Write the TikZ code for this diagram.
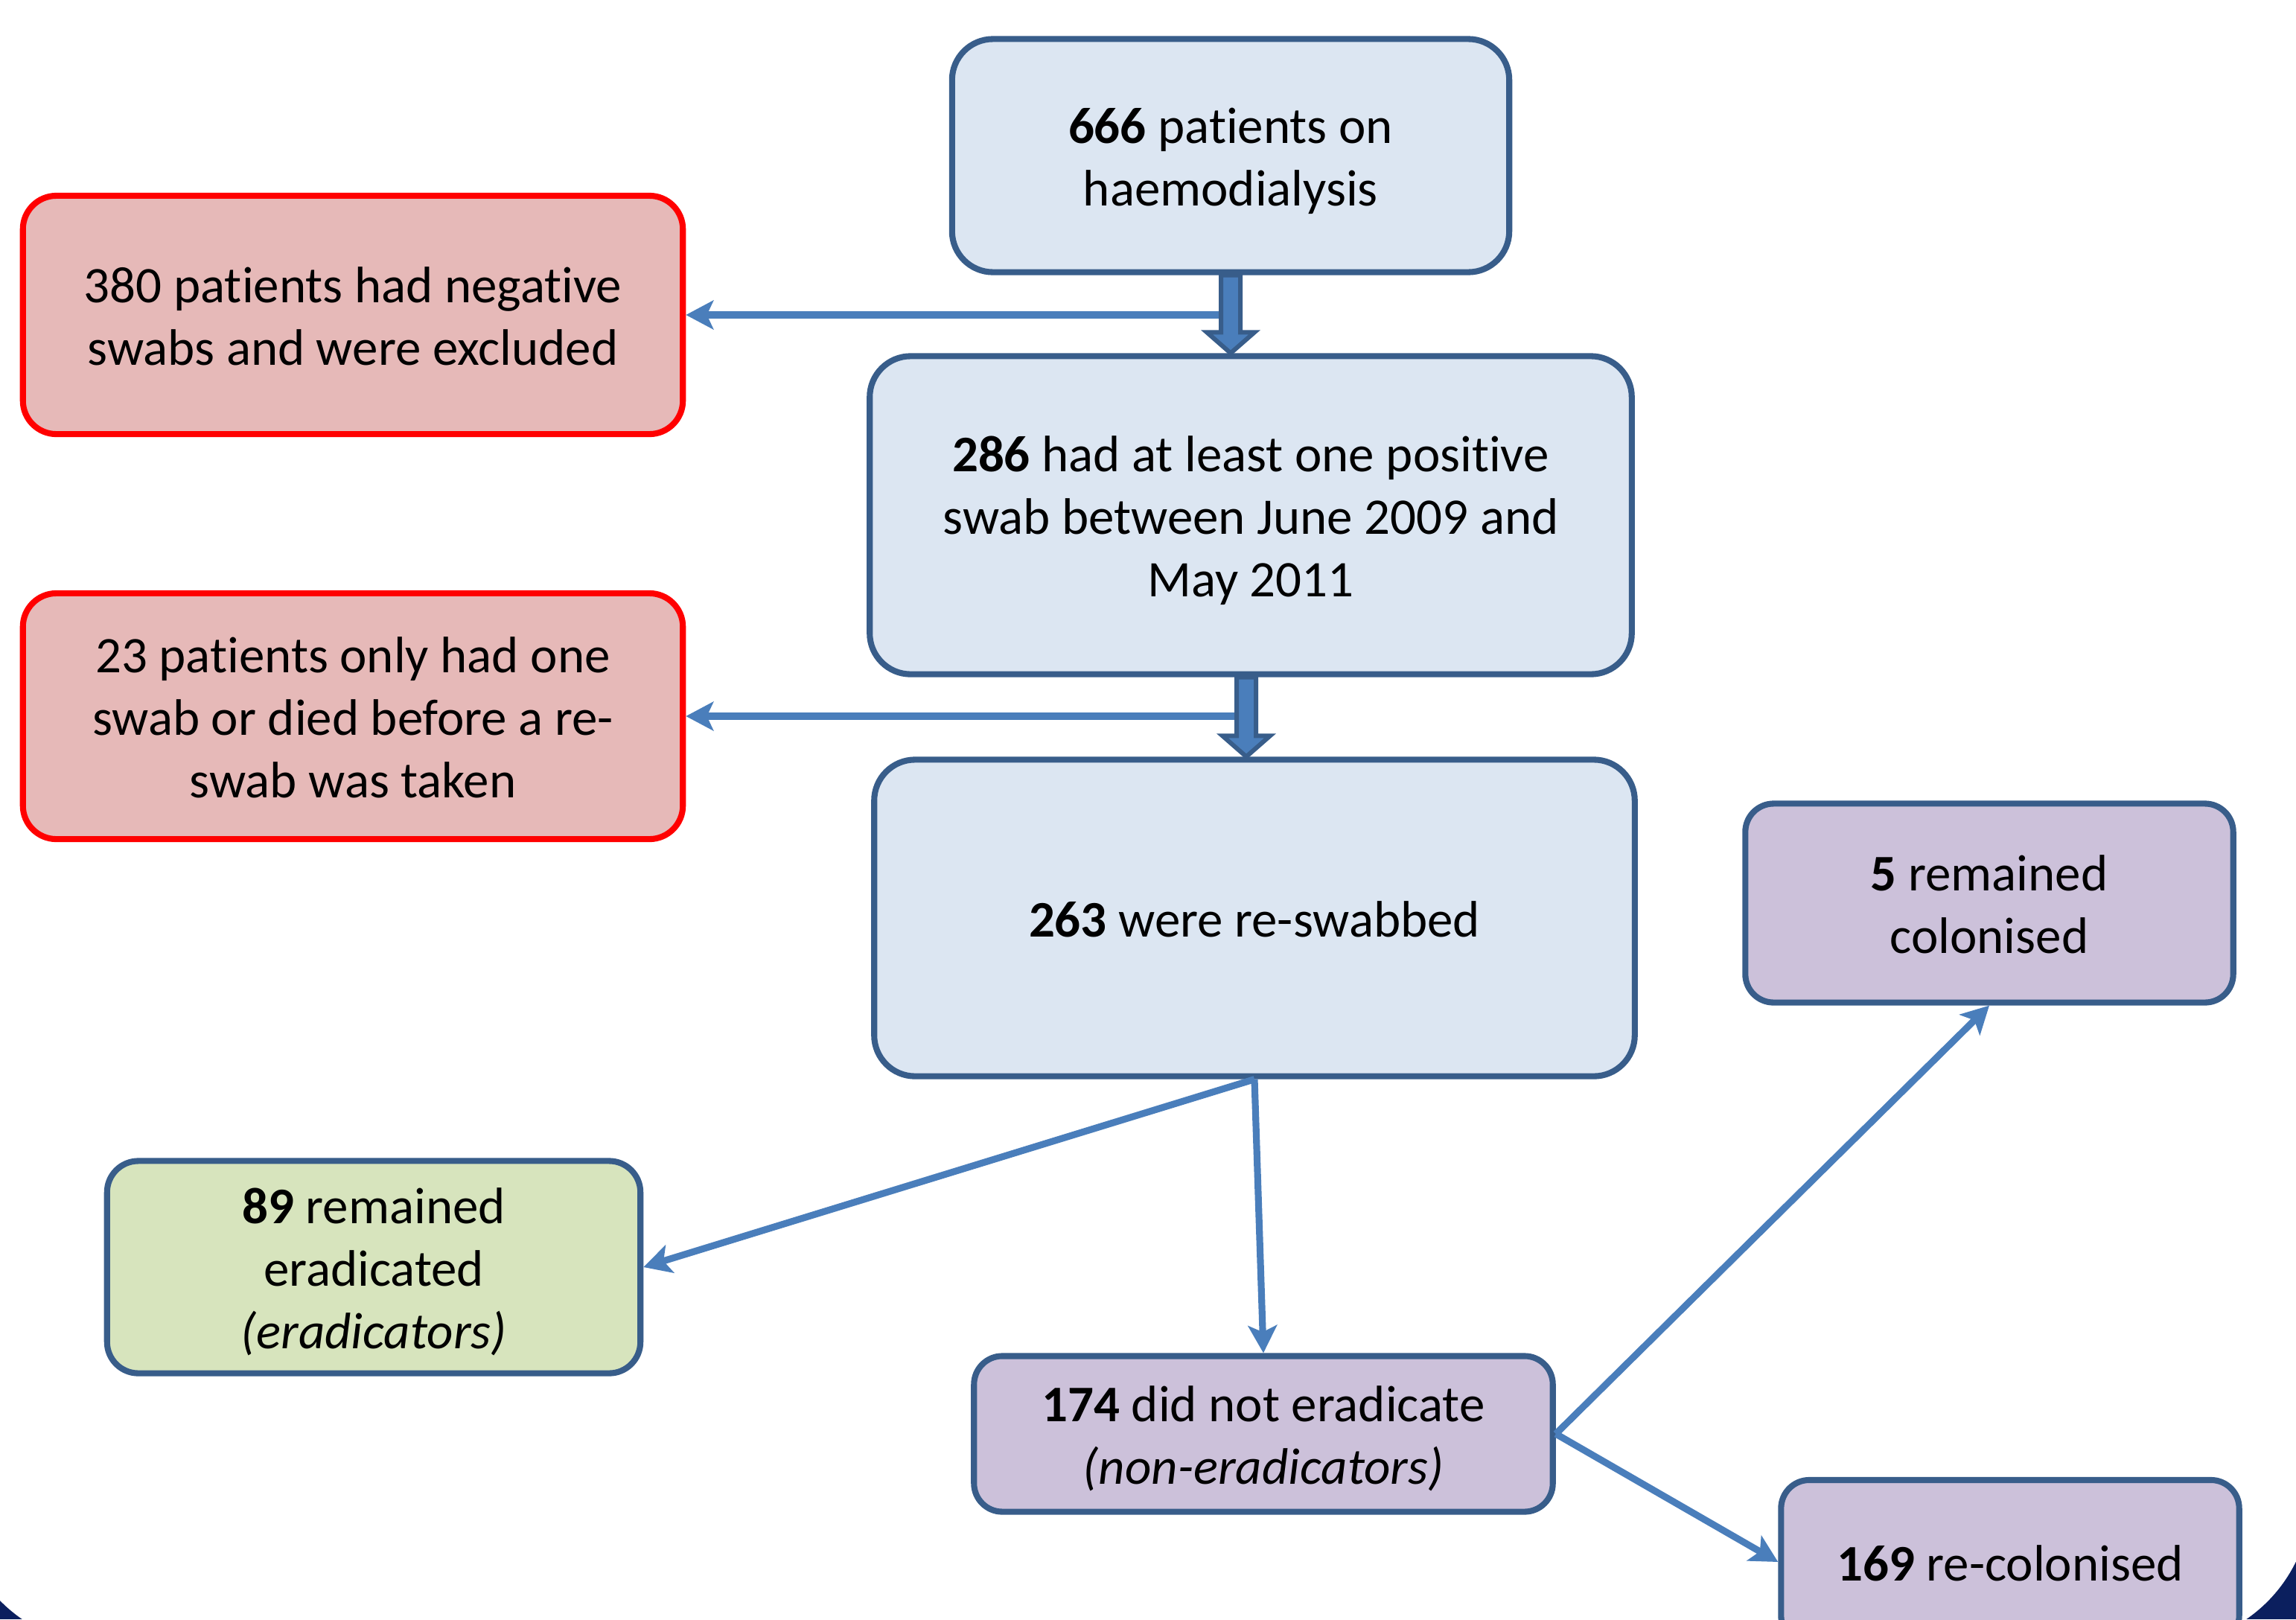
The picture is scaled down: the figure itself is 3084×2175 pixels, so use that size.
\documentclass[tikz,border=0pt]{standalone}
\usepackage{fontspec}
\setmainfont{Carlito}[Ligatures={NoCommon,NoContextual,NoRequired}]
\usetikzlibrary{calc,arrows.meta}
\definecolor{navybg}{HTML}{0B1F5E}
\definecolor{bordc}{HTML}{385D8A}
\definecolor{conn}{HTML}{4A7EBB}
\definecolor{bluef}{HTML}{DCE6F2}
\definecolor{redf}{HTML}{E6B9B8}
\definecolor{redb}{HTML}{FF0000}
\definecolor{purf}{HTML}{CCC1DA}
\definecolor{greenf}{HTML}{D7E4BD}
\newcommand\tstrut{\rule[-4.7pt]{0pt}{23.9pt}}
\tikzset{
  box/.style={rectangle, draw=bordc, line width=2.3pt, align=center, inner sep=0pt,
    font=\fontsize{19.6pt}{23.9pt}\selectfont},
  bluebox/.style={box, fill=bluef, rounded corners=0.55cm},
  redbox/.style={box, fill=redf, draw=redb, rounded corners=0.45cm},
  purbox/.style={box, fill=purf, rounded corners=0.38cm},
  greenbox/.style={box, fill=greenf, rounded corners=0.42cm},
  thin arrow/.style={draw=conn, line width=2.6pt, -{Stealth[length=10.5pt,width=11pt,inset=2.5pt]}},
  block arrow/.style={fill=conn, draw=bordc, line width=1.7pt, line join=miter}
}
\begin{document}
\begin{tikzpicture}[x=0.01cm, y=-0.01cm]
\useasboundingbox (0,0) rectangle (3084,2175);
\clip (0,0) rectangle (3084,2175);
\fill[navybg] (0,0) rectangle (3084,2175);
\fill[white, rounded corners=2cm] (-57,-300) rectangle (3104,2210);

% boxes
\node[bluebox, minimum width=7.48cm, minimum height=3.13cm] (b1) at (1653,209)
  {\tstrut\textbf{666} patients on\\\tstrut haemodialysis};
\node[redbox, minimum width=8.86cm, minimum height=3.20cm] (r1) at (474,423)
  {\tstrut 380 patients had negative\\\tstrut swabs and were excluded};
\node[bluebox, minimum width=10.23cm, minimum height=4.27cm] (b2) at (1680,692)
  {\tstrut\textbf{286} had at least one positive\\\tstrut swab between June 2009 and\\\tstrut May 2011};
\node[redbox, minimum width=8.86cm, minimum height=3.30cm] (r2) at (474,962)
  {\tstrut 23 patients only had one\\\tstrut swab or died before a re-\\\tstrut swab was taken};
\node[bluebox, minimum width=10.21cm, minimum height=4.25cm] (b3) at (1685,1233)
  {\tstrut\textbf{263} were re-swabbed};
\node[purbox, minimum width=6.55cm, minimum height=2.67cm] (p5) at (2672,1213)
  {\tstrut\textbf{5} remained\\\tstrut colonised};
\node[greenbox, minimum width=7.16cm, minimum height=2.85cm] (g89) at (502,1702)
  {\tstrut\textbf{89} remained\\\tstrut eradicated\\\tstrut\textit{(eradicators)}};
\node[purbox, minimum width=7.77cm, minimum height=2.09cm] (p174) at (1697,1926)
  {\tstrut\textbf{174} did not eradicate\\\tstrut\textit{(non-eradicators)}};
\node[purbox, minimum width=6.15cm, minimum height=2.20cm] (p169) at (2700,2098)
  {\tstrut\textbf{169} re-colonised};

% exclusion arrows
\coordinate (a1s) at (b1.south);
\coordinate (a1e) at (b1.south |- b2.north);
\draw[thin arrow] (a1s |- r1.east) -- (r1.east);
\filldraw[block arrow] ($(a1s)+(-13,0)$) -- ($(a1e)+(-13,-28)$) -- ($(a1e)+(-32,-28)$)
  -- (a1e) -- ($(a1e)+(32,-28)$) -- ($(a1e)+(13,-28)$) -- ($(a1s)+(13,0)$) -- cycle;

\coordinate (a2s) at ($(b2.south)+(-6,0)$);
\coordinate (a2e) at (a2s |- b3.north);
\draw[thin arrow] (a2s |- r2.east) -- (r2.east);
\filldraw[block arrow] ($(a2s)+(-13,0)$) -- ($(a2e)+(-13,-28)$) -- ($(a2e)+(-32,-28)$)
  -- (a2e) -- ($(a2e)+(32,-28)$) -- ($(a2e)+(13,-28)$) -- ($(a2s)+(13,0)$) -- cycle;

% outcome arrows
\draw[thin arrow] (b3.south) -- (g89.east);
\draw[thin arrow] (b3.south) -- (p174.north);
\draw[thin arrow] (p174.east) -- (p5.south);
\draw[thin arrow] (p174.east) -- (p169.west);
\end{tikzpicture}
\end{document}
